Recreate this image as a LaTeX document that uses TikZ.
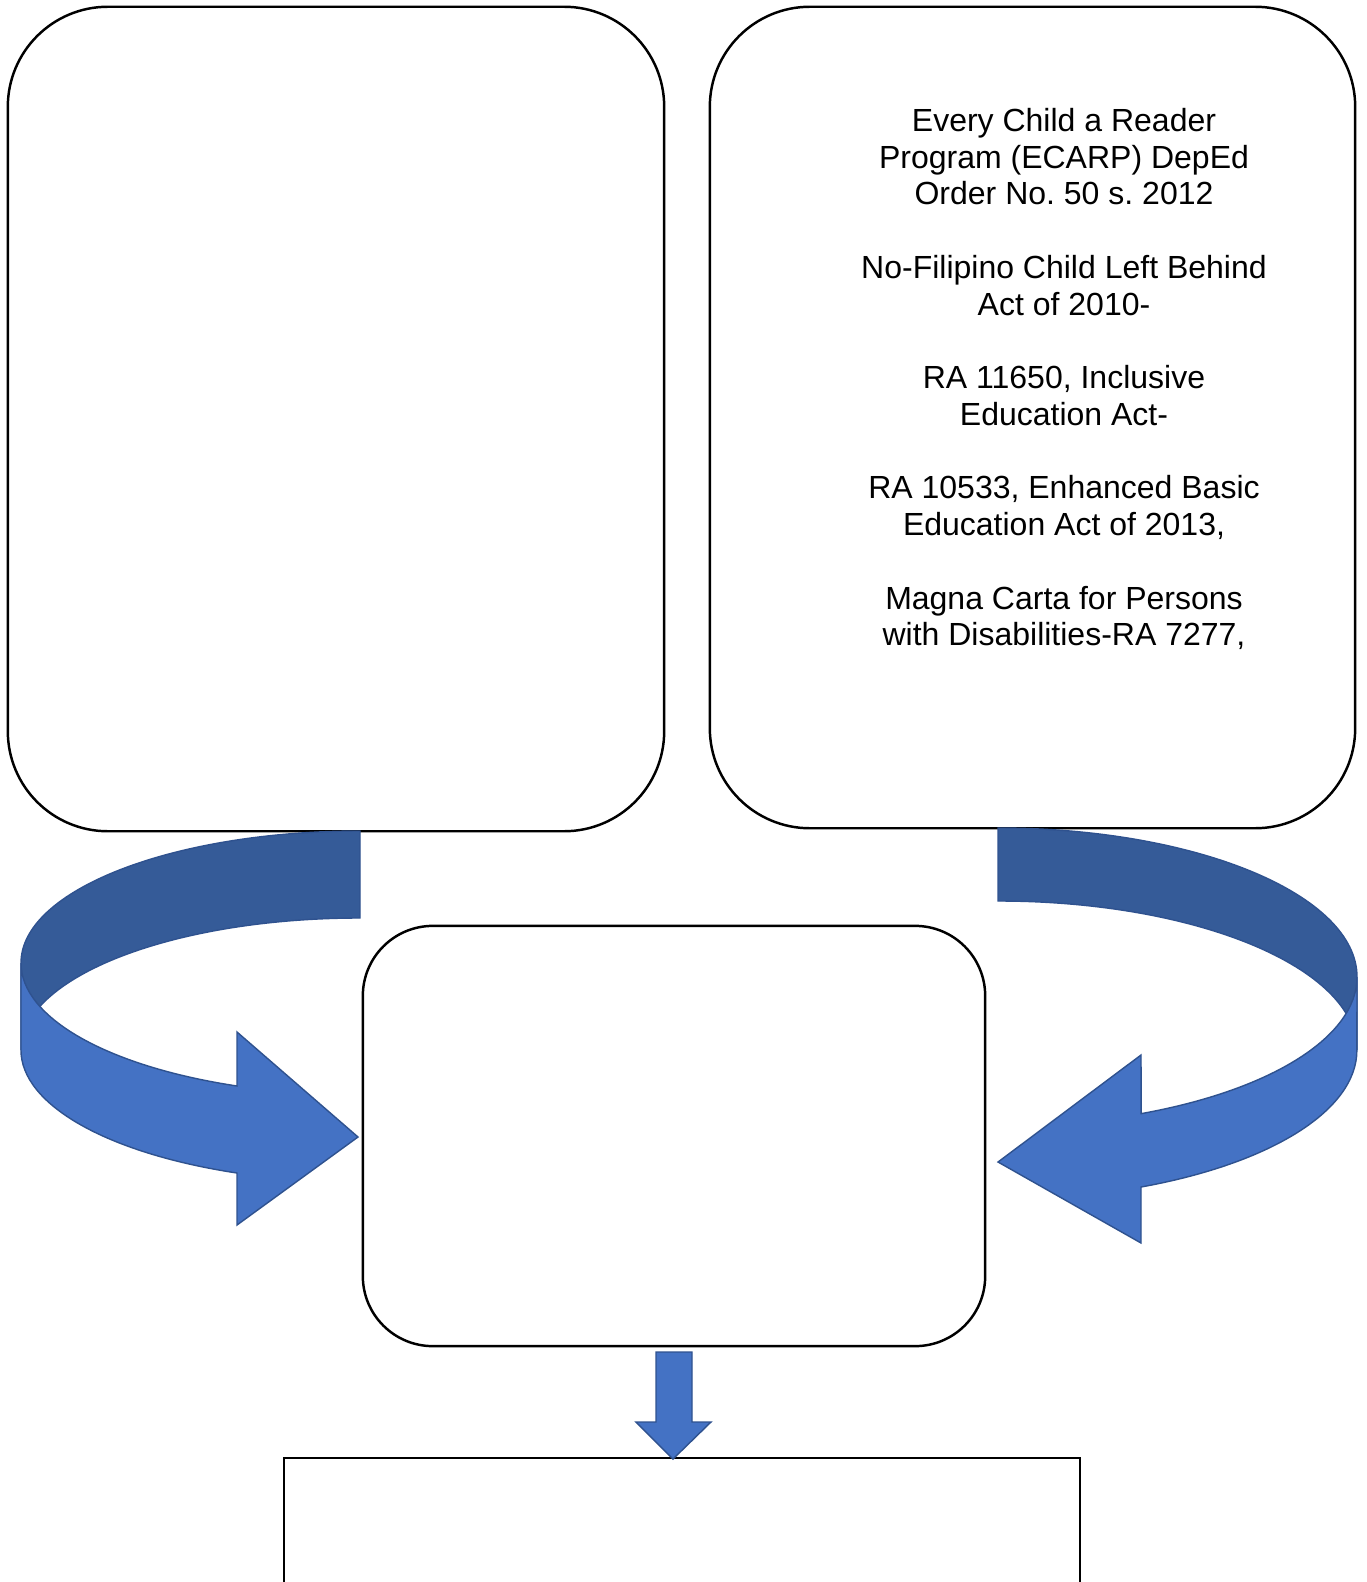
\documentclass[tikz,border=0pt]{standalone}
\usepackage{fontspec}
\setmainfont{Liberation Sans}
\usetikzlibrary{positioning, calc}

\definecolor{ribfront}{RGB}{68,114,196}
\definecolor{ribback}{RGB}{53,91,152}
\definecolor{ribedge}{RGB}{47,82,143}

\begin{document}
\frenchspacing
\begin{tikzpicture}[
  x=0.01cm, y=-0.01cm,
  panel/.style  = {draw, line width=0.7pt, rounded corners=1cm, fill=white,
                   inner sep=0pt},
  core/.style   = {panel, rounded corners=0.7cm},
  outbox/.style = {draw, line width=0.7pt, fill=white, inner sep=0pt},
  laws/.style   = {align=center, inner sep=0pt,
                   font=\fontsize{9.1}{10.45}\selectfont},
  back/.style   = {fill=ribback, draw=ribedge, line width=0.4pt},
  front/.style  = {fill=ribfront, draw=ribedge, line width=0.4pt},
]

\useasboundingbox (0,0) rectangle (1367,1582);
\clip (0,0) rectangle (1367,1582);

% boxes
\node[panel, minimum width=6.56cm, minimum height=8.24cm] (left)  at (336,419) {};
\node[panel, minimum width=6.45cm, minimum height=8.21cm] (right) at (1032.5,417.5) {};
\node[core,  minimum width=6.22cm, minimum height=4.20cm] (mid)   at (674,1136) {};
\node[outbox, minimum width=7.96cm, minimum height=3.00cm, anchor=north] (out) at (682,1457) {};

\node[laws] (acts) at (1064,379)
     {Every Child a Reader\\Program (ECARP) DepEd\\Order No. 50 s. 2012\\[10.45pt]
      No-Filipino Child Left Behind\\Act of 2010-\\[10.45pt]
      RA 11650, Inclusive\\Education Act-\\[10.45pt]
      RA 10533, Enhanced Basic\\Education Act of 2013,\\[10.45pt]
      Magna Carta for Persons\\with Disabilities-RA 7277,};

% left ribbon arrow
\draw[back] (360,831) arc[start angle=270, end angle=180, x radius=339, y radius=132]
      -- (21,1050) arc[start angle=180, end angle=270, x radius=339, y radius=132] -- cycle;
\draw[front] (21,963) arc[start angle=180, end angle=111.27, x radius=339, y radius=132]
      -- (237,1032) -- (358,1137) -- (237,1225) -- (237,1173)
      arc[start angle=111.27, end angle=180, x radius=339, y radius=132] -- cycle;

% right ribbon arrow
\draw[back] (998,828) arc[start angle=270, end angle=360, x radius=359, y radius=149]
      -- (1357,1050) arc[start angle=360, end angle=270, x radius=359, y radius=149] -- cycle;
\draw[front] (1357,977) arc[start angle=0, end angle=66.5, x radius=359, y radius=149]
      -- (1141,1055) -- (998,1162) -- (1141,1243) -- (1141,1187)
      arc[start angle=66.5, end angle=0, x radius=359, y radius=149] -- cycle;

% down arrow
\draw[front] (656,1352) -- (692,1352) -- (692,1422) -- (711,1422) -- (673,1459)
      -- (636,1422) -- (656,1422) -- cycle;

\end{tikzpicture}
\end{document}
